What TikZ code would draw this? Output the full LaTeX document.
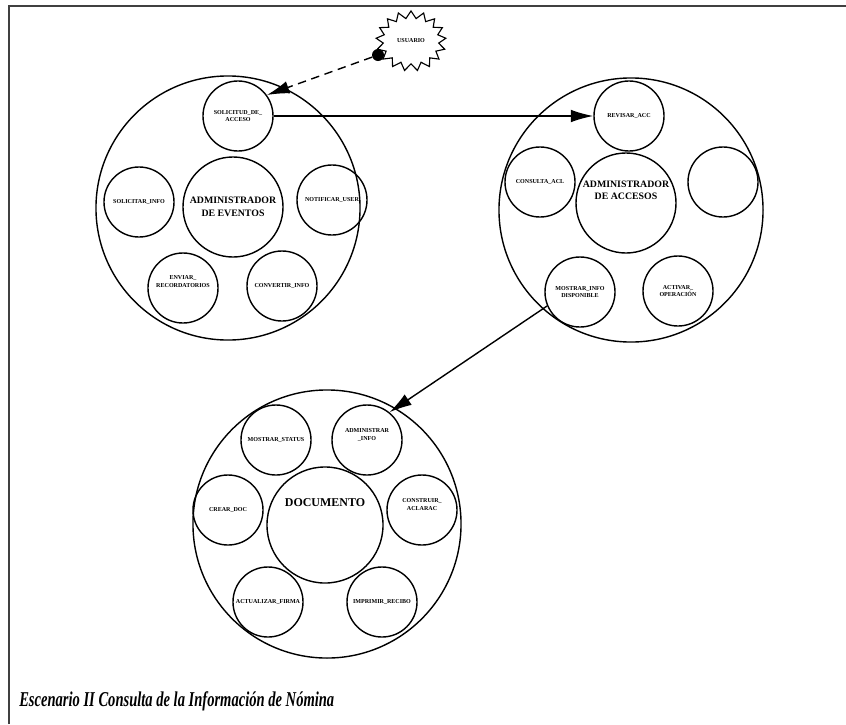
\documentclass[tikz,border=0pt]{standalone}
\usepackage{fontspec}
\setmainfont{Liberation Serif}
\usepackage{tikz}
\usetikzlibrary{positioning,arrows.meta,shapes.symbols,calc}
\usepackage{xcolor}

\begin{document}
\begin{tikzpicture}[x=0.025cm, y=-0.025cm, >={Latex[length=16pt,width=9pt]},
    module/.style={circle, draw, line width=1pt, minimum size=6.6cm, inner sep=0pt},
    core/.style={circle, draw, line width=1pt, minimum size=2.5cm, inner sep=0pt, align=center,
        font=\fontsize{7}{9}\selectfont\bfseries},
    proc/.style={circle, draw, line width=1pt, minimum size=1.75cm, inner sep=0pt, align=center,
        font=\fontsize{4.3}{5.5}\selectfont\bfseries},
    flow/.style={->, line width=1pt}]

    \useasboundingbox (0,0) rectangle (846,724);

    % --- FRAME ---
    \draw[line width=1.4pt, black!75] (9,724) -- (9,6) -- (846,6);

    % --- USUARIO ---
    \node[starburst, draw, line width=0.8pt, random starburst=0, starburst points=17,
        starburst point height=0.18cm, minimum width=1.75cm, minimum height=1.5cm,
        inner sep=0pt, font=\fontsize{4.3}{5.5}\selectfont\bfseries] (usuario) at (411,41) {USUARIO};
    \node[circle, fill, inner sep=0pt, minimum size=0.3cm] (dot) at (378,55) {};

    % --- ADMINISTRADOR DE EVENTOS ---
    \node[module] (eventos) at (228,208) {};
    \node[core] (admev) at (233,207) {ADMINISTRADOR\\DE EVENTOS};
    \node[proc] (solacc) at (238,116) {SOLICITUD\_DE\_\\ACCESO};
    \node[proc] (solinfo) at (139,202) {SOLICITAR\_INFO};
    \node[proc] (notif) at (332,200) {NOTIFICAR\_USER};
    \node[proc] (enviar) at (183,288) {ENVIAR\_\\RECORDATORIOS\\[4pt]};
    \node[proc] (conv) at (282,286) {CONVERTIR\_INFO};

    % --- ADMINISTRADOR DE ACCESOS ---
    \node[module] (accesos) at (631,210) {};
    \node[core] (admac) at (626,203) {ADMINISTRADOR\\DE ACCESOS\\[9pt]};
    \node[proc] (revisar) at (629,116) {REVISAR\_ACC};
    \node[proc] (consulta) at (540,182) {CONSULTA\_ACL};
    \node[proc] (vacio) at (723,182) {};
    \node[proc] (mostinfo) at (580,292) {MOSTRAR\_INFO\\DISPONIBLE};
    \node[proc] (activar) at (678,291) {ACTIVAR\_\\OPERACIÓN};

    % --- DOCUMENTO ---
    \node[module, minimum size=6.7cm] (documento) at (327,524) {};
    \node[core, minimum size=2.9cm] (doc) at (325,525) {};
    \node[font=\fontsize{8.5}{10}\selectfont\bfseries] (doctxt) at (325,503) {DOCUMENTO};
    \node[proc] (moststat) at (276,440) {MOSTRAR\_STATUS};
    \node[proc] (adminfo) at (367,440) {ADMINISTRAR\\\_INFO\\[2pt]};
    \node[proc] (crear) at (228,510) {CREAR\_DOC};
    \node[proc] (constr) at (422,510) {CONSTRUIR\_\\ACLARAC\\[2pt]};
    \node[proc] (actual) at (268,602) {ACTUALIZAR\_FIRMA};
    \node[proc] (imprimir) at (382,602) {IMPRIMIR\_RECIBO};

    % --- CONNECTORS ---
    \draw[flow, dashed, dash pattern=on 6pt off 4pt] (dot) -- (solacc.36);
    \draw[flow] (solacc.east) -- (revisar.west);
    \draw[flow] (mostinfo.203) -- (adminfo.51);

    % --- CAPTION ---
    \node[anchor=base west, inner sep=0pt, font=\fontsize{15}{17}\selectfont\bfseries\itshape]
        (caption) at (19,706) {\scalebox{0.69}[1]{Escenario II Consulta de la Información de Nómina}};

\end{tikzpicture}
\end{document}
